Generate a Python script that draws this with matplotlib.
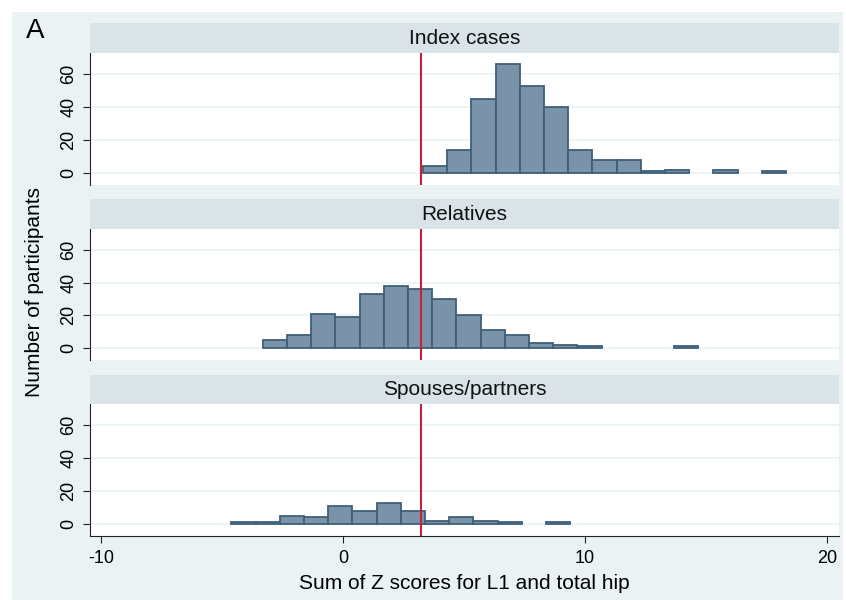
import numpy as np
import matplotlib.pyplot as plt
from matplotlib.patches import Rectangle

plt.rcParams['font.family'] = ['Liberation Sans', 'DejaVu Sans']

# Histogram data (bin width 1)
panels = ['Index cases', 'Relatives', 'Spouses/partners']
bin_start = [3.31, -3.31, -4.61]
counts_index = [4, 14, 45, 66, 53, 40, 14, 8, 8, 1, 2, 0, 2, 0, 1]
counts_rel = [5, 8, 21, 19, 33, 38, 36, 30, 20, 11, 8, 3, 2, 1, 0, 0, 0, 1]
counts_sp = [1, 1, 5, 4, 11, 8, 13, 8, 2, 4, 2, 1, 0, 1]
all_counts = [counts_index, counts_rel, counts_sp]
ref_line = 3.22
yticks = [0, 20, 40, 60]
xticks = [-10, 0, 10, 20]

W, H = 846, 600
bg = '#eaf2f3'
strip_col = '#d9e3e8'
bar_face = '#7b93a8'
bar_edge = '#3e5f78'
red = '#c8203a'

fig = plt.figure(figsize=(W / 100, H / 100), dpi=100)
fig.patch.set_facecolor('white')
fig.patches.append(Rectangle((12 / W, 0), (843 - 12) / W, (600 - 12) / H,
                             transform=fig.transFigure, facecolor=bg,
                             edgecolor='none', zorder=-10))

# pixel layout: (strip top, plot top, plot bottom)
rows = [(23, 53, 185), (199, 229, 360), (375, 404, 536)]
left, right = 90, 839

for i, (st, pt, pb) in enumerate(rows):
    ax = fig.add_axes([left / W, 1 - pb / H, (right - left) / W, (pb - pt) / H])
    # strip title
    fig.patches.append(Rectangle((left / W, 1 - pt / H), (right - left) / W,
                                 (pt - st) / H, transform=fig.transFigure,
                                 facecolor=strip_col, edgecolor='none'))
    fig.text((left + right) / 2 / W, 1 - (st + pt) / 2 / H, panels[i],
             ha='center', va='center', fontsize=15, color='#111111')

    # bars (empty bins are not drawn)
    c = np.array(all_counts[i])
    x0 = bin_start[i] + np.arange(len(c))
    keep = c > 0
    ax.bar(x0[keep], c[keep], width=1.0, align='edge', color=bar_face,
           edgecolor=bar_edge, linewidth=1.3, zorder=2)
    ax.axvline(ref_line, color=red, linewidth=1.5, zorder=3)

    ax.set_xlim(-10.45, 20.5)
    ax.set_ylim(-7.3, 72.7)
    ax.set_yticks(yticks)
    ax.set_yticklabels([str(t) for t in yticks], rotation=90, va='center')
    ax.grid(axis='y', color='#eaf2f3', linewidth=1.2, zorder=0)
    ax.set_axisbelow(True)
    for s in ['top', 'right', 'bottom']:
        ax.spines[s].set_visible(False)
    ax.spines['left'].set_color('#222222')
    ax.tick_params(axis='y', length=5, color='#222222', labelsize=13, pad=4)
    ax.set_xticks(xticks)
    if i < 2:
        ax.tick_params(axis='x', bottom=False, labelbottom=False)
    else:
        ax.spines['bottom'].set_visible(True)
        ax.spines['bottom'].set_color('#222222')
        ax.tick_params(axis='x', length=5, color='#222222', labelsize=13, pad=5)
        ax.set_xticklabels([str(t) for t in xticks])
        ax.set_xlabel('Sum of Z scores for L1 and total hip', fontsize=15, labelpad=5)

fig.text(26 / W, 1 - 31 / H, 'A', fontsize=20, ha='left', va='center')
fig.text(34 / W, 1 - 292 / H, 'Number of participants', fontsize=15,
         rotation=90, ha='center', va='center')

fig.savefig('out.png', dpi=100)
